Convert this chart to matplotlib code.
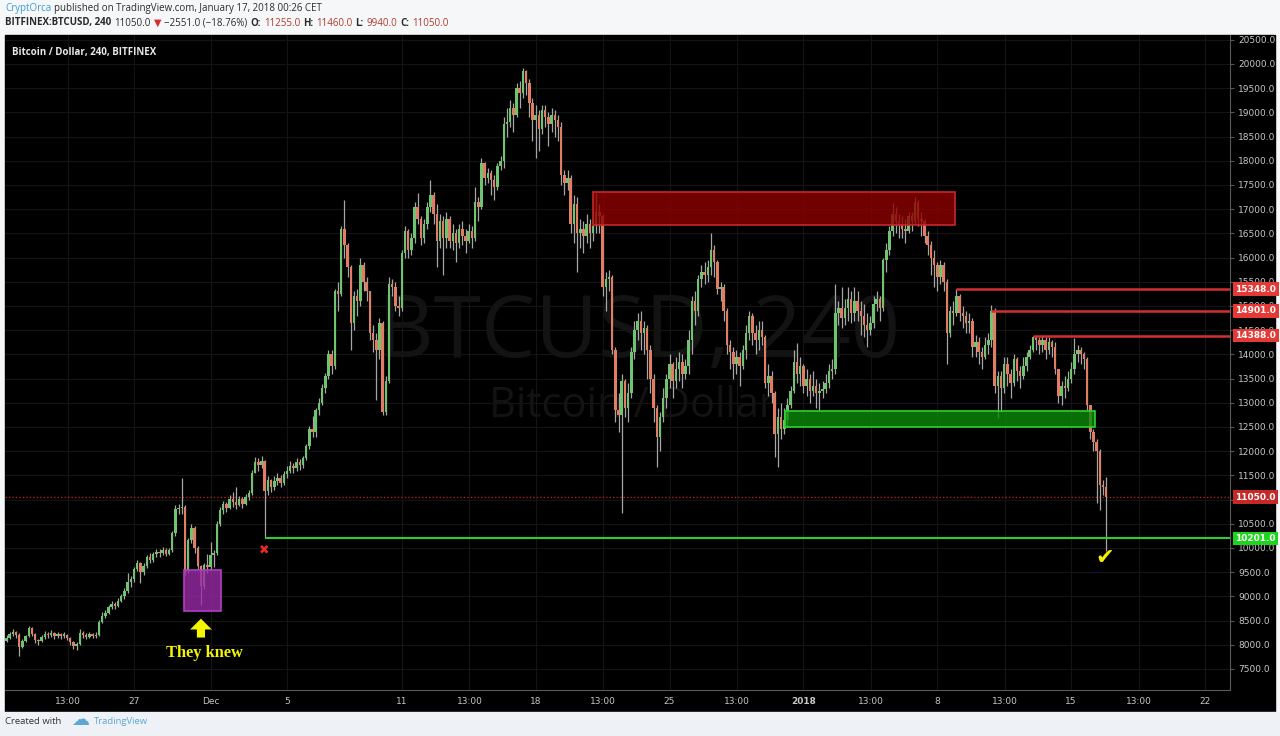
import matplotlib
matplotlib.use('Agg')
import matplotlib.pyplot as plt
import matplotlib.dates as mdates
import matplotlib.transforms as mtransforms
from matplotlib.patches import Rectangle
import numpy as np
import pandas as pd

# ---- 4h candles, BITFINEX:BTCUSD, from 2017-11-20 08:00 (one row per day) ----
first_open = 8080
closes = [
    8150, 8230, 8260, 8210, 7960, 8080,
    8180, 8350, 8220, 8090, 8070, 8160,
    8230, 8200, 8250, 8180, 8220, 8190,
    8200, 8150, 8050, 7970, 8020, 8250,
    8200, 8170, 8230, 8180, 8210, 8480,
    8600, 8660, 8780, 8850, 8800, 8900,
    9000, 9120, 9300, 9350, 9560, 9690,
    9500, 9620, 9810, 9760, 9880, 9920,
    9900, 9960, 9880, 9950, 10300, 10800,
    10820, 10850, 9520, 10160, 10420, 10000,
    9620, 9220, 9650, 9600, 9850, 9900,
    10500, 10780, 10900, 10830, 11020, 10940,
    10880, 11020, 10900, 11050, 11130, 11550,
    11780, 11720, 11800, 11180, 11400, 11250,
    11380, 11450, 11350, 11520, 11600, 11700,
    11650, 11780, 11720, 11850, 12100, 12450,
    12400, 12850, 13000, 13300, 13550, 14000,
    13750, 15300, 15250, 16600, 16250, 15800,
    14650, 15200, 15100, 15850, 15500, 15300,
    14450, 14300, 14100, 14650, 12800, 13450,
    15450, 15400, 15000, 14950, 16100, 16550,
    16150, 16400, 17050, 16800, 16400, 16700,
    17050, 17300, 16900, 16350, 16750, 16400,
    16800, 16350, 16500, 16300, 16600, 16450,
    16350, 16550, 16400, 17150, 17050, 17950,
    17650, 17750, 17600, 17450, 17900, 18000,
    18750, 18800, 19100, 18950, 19500, 19400,
    19850, 19600, 19200, 18850, 18950, 18650,
    19050, 18900, 18750, 18950, 18850, 18700,
    17700, 17550, 17650, 16700, 17100, 16500,
    16600, 16450, 16700, 16500, 16650, 16950,
    16850, 15400, 15550, 15600, 14100, 12850,
    12750, 13450, 12900, 13200, 14050, 14500,
    14700, 14450, 14550, 14100, 13500, 12900,
    12300, 12700, 13100, 13500, 13800, 13450,
    13700, 13850, 13600, 13750, 14300, 15100,
    14900, 15550, 15700, 15650, 15800, 16150,
    15900, 15350, 15400, 14900, 14200, 14050,
    13800, 13950, 13750, 14100, 14450, 14800,
    14450, 14300, 14500, 14350, 13400, 13550,
    13200, 12350, 12700, 12450, 12650, 12950,
    13250, 13850, 13600, 13750, 13350, 13500,
    13250, 13350, 13200, 13250, 13280, 13400,
    13650, 13700, 14850, 14950, 14750, 14950,
    15150, 14850, 15100, 14900, 14800, 14600,
    14500, 14650, 15050, 15150, 14950, 15950,
    16150, 16550, 16900, 16750, 16700, 16600,
    16550, 16850, 16750, 17150, 16800, 16750,
    16450, 16250, 16000, 15850, 15600, 15850,
    15500, 14450, 14900, 14850, 15200, 14850,
    14800, 14650, 14700, 14150, 14250, 14050,
    13950, 14200, 14300, 14900, 13350, 13550,
    13300, 13800, 13600, 13400, 13900, 13650,
    13550, 13750, 13950, 14100, 14350, 14300,
    14200, 14300, 14100, 14250, 14150, 13700,
    13150, 13350, 13300, 13500, 13700, 14000,
    14100, 14000, 13900, 12950, 12400, 12200,
    12000, 11300, 11255, 11050,
]
highs = [
    8200, 8270, 8320, 8280, 8250, 8120,
    8200, 8380, 8370, 8250, 8130, 8200,
    8280, 8270, 8300, 8260, 8270, 8250,
    8260, 8230, 8170, 8080, 8060, 8320,
    8290, 8240, 8270, 8240, 8260, 8520,
    8680, 8720, 8830, 8900, 8880, 8960,
    9050, 9180, 9480, 9420, 9600, 9760,
    9720, 9700, 9850, 9900, 9920, 9980,
    9980, 10020, 9990, 10000, 10350, 10880,
    10900, 11450, 10880, 10200, 10500, 10450,
    10050, 9650, 9700, 9880, 10120, 9950,
    10560, 10850, 10980, 10960, 11100, 11150,
    11250, 11080, 11060, 11120, 11200, 11620,
    11880, 11850, 11900, 11820, 11480, 11420,
    11480, 11550, 11500, 11600, 11700, 11800,
    11760, 11850, 11830, 11900, 12150, 12520,
    12720, 12900, 13100, 13380, 13620, 14100,
    14100, 15350, 15500, 16650, 17190, 16300,
    15850, 15300, 15350, 16000, 15900, 15600,
    15300, 14600, 14450, 14750, 14700, 13550,
    15600, 15550, 15500, 15200, 16150, 16650,
    16600, 16500, 17150, 17330, 16850, 16800,
    17150, 17600, 17350, 17100, 16900, 16850,
    16950, 16850, 16700, 16600, 16700, 16750,
    16600, 16700, 16650, 17450, 17250, 18050,
    17980, 17850, 17800, 17700, 17950, 18100,
    18900, 19100, 19250, 19200, 19600, 19650,
    19920, 19870, 19700, 19300, 19150, 19050,
    19150, 19150, 19000, 19100, 19050, 18950,
    18800, 17800, 17800, 17700, 17300, 17250,
    16800, 16750, 16900, 16800, 16800, 17330,
    17100, 16900, 15700, 15750, 15650, 14150,
    13200, 13600, 13500, 13400, 14150, 14700,
    14850, 14900, 14700, 14600, 14200, 13600,
    12950, 12800, 13300, 13600, 14000, 13850,
    13950, 14050, 14000, 13900, 14500, 15200,
    15300, 15650, 15850, 15900, 15950, 16500,
    16250, 15950, 15500, 15450, 14950, 14300,
    14150, 14100, 14050, 14200, 14600, 14900,
    14850, 14600, 14700, 14700, 14400, 13800,
    13650, 13250, 12900, 13000, 12900, 13100,
    13350, 14100, 14240, 13950, 13800, 13700,
    13600, 13650, 13500, 13400, 13450, 13600,
    13800, 13900, 15450, 15100, 15400, 15150,
    15400, 15300, 15400, 15300, 15100, 15050,
    14850, 14800, 15200, 15300, 15200, 16000,
    16300, 16650, 17130, 17050, 16900, 16850,
    16800, 16950, 16950, 17250, 17200, 16950,
    16800, 16550, 16350, 16150, 15900, 15950,
    15900, 15550, 15000, 15100, 15348, 15250,
    15000, 14900, 14850, 14750, 14400, 14350,
    14150, 14350, 14450, 15030, 14950, 13650,
    13650, 13950, 13950, 13700, 14000, 13950,
    13750, 13950, 14050, 14200, 14388, 14380,
    14350, 14380, 14350, 14350, 14300, 14250,
    13700, 13450, 13550, 13650, 13850, 14340,
    14200, 14150, 14050, 13950, 12950, 12450,
    12250, 12050, 11400, 11460,
]
lows = [
    8050, 8120, 8190, 8150, 7760, 7940,
    8060, 8160, 8180, 8040, 8000, 8050,
    8130, 8150, 8170, 8120, 8150, 8120,
    8140, 8100, 7990, 7920, 7890, 8000,
    8150, 8120, 8140, 8140, 8150, 8190,
    8450, 8560, 8640, 8740, 8740, 8780,
    8880, 8950, 9080, 9200, 9300, 9520,
    9280, 9450, 9580, 9680, 9720, 9820,
    9820, 9850, 9840, 9860, 9920, 10250,
    10700, 10700, 9450, 9480, 10100, 9900,
    9560, 8820, 9150, 9480, 9550, 9600,
    9850, 10450, 10700, 10750, 10800, 10850,
    10800, 10860, 10820, 10880, 11000, 11100,
    11550, 11600, 11650, 10201, 11100, 11150,
    11200, 11300, 11250, 11300, 11450, 11550,
    11550, 11600, 11620, 11650, 11820, 12050,
    12300, 12300, 12750, 12950, 13200, 13500,
    13600, 13700, 14900, 15200, 16000, 15600,
    14100, 14500, 14800, 15000, 15300, 15100,
    14300, 14050, 13060, 13900, 12750, 12750,
    13400, 15200, 14900, 14800, 14900, 16000,
    16000, 16050, 16300, 16700, 16250, 16300,
    16600, 16950, 16700, 15800, 16200, 15640,
    16200, 16200, 16150, 15900, 16200, 16250,
    16100, 16300, 16200, 16350, 16750, 17000,
    17500, 17550, 17300, 17200, 17400, 17800,
    17850, 18500, 18700, 18600, 18900, 19100,
    19300, 19350, 18900, 18400, 18060, 18200,
    18550, 18700, 18300, 18600, 18500, 18400,
    17500, 17300, 17400, 16500, 16300, 15700,
    16200, 16100, 16300, 16200, 16350, 16500,
    16500, 15200, 14900, 15300, 14000, 12600,
    12400, 10720, 12700, 12600, 13100, 13900,
    14300, 14100, 14000, 13500, 13200, 12600,
    11670, 12000, 12600, 12900, 13300, 13100,
    13300, 13450, 13300, 13500, 13600, 14000,
    14600, 14800, 15400, 15450, 15500, 15650,
    15600, 15250, 15100, 14700, 14000, 13700,
    13500, 13600, 13350, 13700, 13900, 14300,
    14200, 14000, 14100, 14200, 13300, 13150,
    13000, 11880, 11670, 12250, 12350, 12500,
    12900, 13200, 13400, 13350, 13200, 13150,
    13000, 13150, 12900, 12850, 13100, 13200,
    13300, 13500, 13600, 14600, 14550, 14600,
    14700, 14650, 14700, 14700, 14400, 14350,
    14150, 14400, 14550, 14900, 14700, 14900,
    15700, 16050, 16450, 16500, 16400, 16400,
    16300, 16500, 16550, 16700, 16650, 16450,
    16300, 16050, 15650, 15400, 15300, 15450,
    15300, 13800, 14350, 14600, 14800, 14700,
    14550, 14450, 14450, 13950, 13950, 13800,
    13700, 13900, 14000, 14150, 13200, 12690,
    12810, 13200, 13350, 13100, 13350, 13450,
    13300, 13500, 13650, 13900, 14050, 14100,
    14000, 14050, 13900, 14000, 13950, 13600,
    13000, 12950, 13100, 13250, 13400, 13600,
    13850, 13800, 13700, 12850, 12250, 12000,
    10930, 10780, 11100, 9940,
]

# drawn levels
res_levels = [15348, 14901, 14388]
res_start = [298, 309, 322]          # candle index where each line starts
support_level = 10201
support_start = 81
last_price = 11050

# zones: (start, end, low, high)
sell_zone = ('2017-12-21 00:00', '2018-01-08 22:00', 16670, 17355)
buy_zone = ('2017-12-31 01:00', '2018-01-16 06:00', 12500, 12840)
pump_zone = ('2017-11-29 15:00', '2017-12-01 13:00', 8700, 9550)

price_ticks = np.arange(7500, 20501, 500)
hidden_ticks = [11000]               # sits fully under the last-price label
tick_times = ['2017-11-23 13:00', '2017-11-27', '2017-12-01', '2017-12-05', '2017-12-11',
              '2017-12-14 13:00', '2017-12-18', '2017-12-21 13:00', '2017-12-25',
              '2017-12-28 13:00', '2018-01-01', '2018-01-04 13:00', '2018-01-08',
              '2018-01-11 13:00', '2018-01-15', '2018-01-18 13:00', '2018-01-22']
tick_labels = ['13:00', '27', 'Dec', '5', '11', '13:00', '18', '13:00', '25',
               '13:00', '2018', '13:00', '8', '13:00', '15', '13:00', '22']

W, H = 1280, 736
UP, DOWN, WICK = '#6fc46f', '#e27c62', '#a6a6a6'
AX_TXT = '#c6c6c6'


def fx(px):
    return px / W


def fy(py):
    return 1 - py / H


def dn(s):
    return mdates.date2num(pd.Timestamp(s).to_pydatetime())


fig = plt.figure(figsize=(W / 100, H / 100), dpi=100, facecolor='#f6f7f9')

# black chart panel + light footer
fig.add_artist(Rectangle((fx(5), fy(712)), fx(1275) - fx(5), fy(35) - fy(712),
                         transform=fig.transFigure, color='black', zorder=0))
fig.add_artist(Rectangle((0, 0), 1, fy(712), transform=fig.transFigure,
                         color='#eef1f5', zorder=0))

ax = fig.add_axes([fx(5), fy(690), fx(1230) - fx(5), fy(35) - fy(690)])
ax.set_facecolor('black')

times = pd.date_range('2017-11-20 08:00', periods=len(closes), freq='4h')
x = mdates.date2num(times.to_pydatetime())
c = np.array(closes, float)
o = np.concatenate([[first_open], c[:-1]])
h = np.maximum(np.array(highs, float), np.maximum(o, c))
l = np.minimum(np.array(lows, float), np.minimum(o, c))
up = c >= o

ax.vlines(x, l, h, color=WICK, lw=0.9, zorder=3)
body = np.maximum(np.abs(c - o), 25)
ax.bar(x, body, bottom=np.minimum(o, c), width=0.13,
       color=np.where(up, UP, DOWN), linewidth=0, zorder=4)

# grid
for p in price_ticks:
    ax.axhline(p, color='#141414', lw=0.8, zorder=1)
for t in tick_times:
    ax.axvline(dn(t), color='#141414', lw=0.8, zorder=1)

# watermark
ax.text(0.518, 0.542, 'BTCUSD, 240', transform=ax.transAxes, ha='center', va='center',
        fontsize=62, color='#131313', family='Open Sans', zorder=1.5)
ax.text(0.512, 0.434, 'Bitcoin / Dollar', transform=ax.transAxes, ha='center', va='center',
        fontsize=30, color='#131313', family='Open Sans', zorder=1.5)

# zones
for (t0, t1, p0, p1), fc, ec, a in [(sell_zone, '#8e0000', '#c62828', 0.8),
                                    (buy_zone, '#0b8a0b', '#2fd12f', 0.8),
                                    (pump_zone, '#9a2aa8', '#b040c0', 0.8)]:
    ax.add_patch(Rectangle((dn(t0), p0), dn(t1) - dn(t0), p1 - p0, facecolor=fc,
                           edgecolor='none', alpha=a, zorder=5))
    ax.add_patch(Rectangle((dn(t0), p0), dn(t1) - dn(t0), p1 - p0, facecolor='none',
                           edgecolor=ec, lw=1.2, zorder=5))

x_right = dn('2018-01-23 07:20')
x_left = dn('2017-11-20 06:07')
for lvl, s in zip(res_levels, res_start):
    ax.hlines(lvl, x[s], x_right, color='#d32f2f', lw=1.8, zorder=6)
ax.hlines(support_level, x[support_start], x_right, color='#2ecc2e', lw=1.5, zorder=6)
ax.axhline(last_price, color='#b71c1c', lw=1, ls=(0, (1, 1.5)), zorder=2)

# annotations
ax.annotate('', xy=(dn('2017-11-30 12:00'), 8540), xytext=(dn('2017-11-30 12:00'), 8150),
            arrowprops=dict(arrowstyle='simple,head_width=1.2,head_length=0.6,tail_width=0.45',
                            color='#f5f500', lw=0, mutation_scale=13, shrinkA=0, shrinkB=0),
            zorder=7)
ax.text(dn('2017-11-30 16:00'), 7830, 'They knew', ha='center', va='center', color='#f5f500',
        fontsize=11.8, fontweight='bold', family='Liberation Serif', zorder=7)
ax.text(dn('2017-12-03 19:00'), 9960, '\u2716', ha='center', va='center', color='#e52b2b',
        fontsize=9, zorder=7)
ax.text(dn('2018-01-16 18:30'), 9800, '\u2714', ha='center', va='center', color='#f5f000',
        fontsize=16, zorder=7)

ax.text(0.006, 0.982, 'Bitcoin / Dollar, 240, BITFINEX', transform=ax.transAxes, ha='left',
        va='top', color='#e8e8e8', fontsize=7, fontweight='bold', family='Open Sans', zorder=8)

# axes
ax.set_xlim(x_left, x_right)
ax.set_ylim(7066, 20599)
ax.yaxis.tick_right()
ax.set_yticks(price_ticks)
ax.set_yticklabels(['' if p in hidden_ticks else f'{p:.1f}' for p in price_ticks])
ax.set_xticks([dn(t) for t in tick_times])
ax.set_xticklabels(tick_labels)
for lab in ax.get_xticklabels():
    if lab.get_text() == '2018':
        lab.set_fontweight('bold')
ax.tick_params(axis='y', colors='#555555', labelcolor=AX_TXT, labelsize=6.5, length=3, pad=3)
ax.tick_params(axis='x', colors='#555555', labelcolor=AX_TXT, labelsize=6.5, length=0, pad=5)
for side in ['top', 'left']:
    ax.spines[side].set_visible(False)
for side in ['right', 'bottom']:
    ax.spines[side].set_color('#5a5a5a')
    ax.spines[side].set_linewidth(0.8)

# price labels on the right axis (drawn over the tick labels, as on TradingView)
trans = mtransforms.blended_transform_factory(ax.transAxes, ax.transData)
for lvl, fc in [(15348, '#e53935'), (14901, '#e53935'), (14388, '#e53935'),
                (last_price, '#c62828'), (support_level, '#1ed51e')]:
    ax.text(1.0045, lvl, f'{lvl:.1f}', transform=trans, ha='left', va='center', color='white',
            fontsize=6.5, fontweight='bold', clip_on=False, zorder=10,
            bbox=dict(boxstyle='square,pad=0.25', fc=fc, ec='none'))

# header text runs
fig.canvas.draw()
rend = fig.canvas.get_renderer()


def run(x0, y0, parts, size):
    xp = x0
    for s, col, wt in parts:
        t = fig.text(fx(xp), fy(y0), s, color=col, fontsize=size, fontweight=wt,
                     ha='left', va='center', family=['Open Sans', 'DejaVu Sans'])
        xp += t.get_window_extent(renderer=rend).width + 3


DARK, RED = '#2b2b2b', '#b03a2e'
run(5, 9, [('CryptOrca', '#3a9bd6', 'normal'),
           ('published on TradingView.com, January 17, 2018 00:26 CET', DARK, 'normal')], 7.0)
run(5, 23, [('BITFINEX:BTCUSD, 240', DARK, 'bold'), ('11050.0', DARK, 'normal'),
            ('\u25bc', '#d32f2f', 'normal'), ('\u22122551.0 (\u221218.76%)', DARK, 'normal'),
            ('O:', DARK, 'bold'), ('11255.0', RED, 'normal'), ('H:', DARK, 'bold'),
            ('11460.0', RED, 'normal'), ('L:', DARK, 'bold'), ('9940.0', RED, 'normal'),
            ('C:', DARK, 'bold'), ('11050.0', RED, 'normal')], 7.0)

fig.text(fx(5), fy(721), 'Created with', color='#333333', fontsize=6.8,
         ha='left', va='center', family='Open Sans')
fig.text(fx(80), fy(720), '\u2601', color='#5aa7d8', fontsize=13, ha='center', va='center')
fig.text(fx(94), fy(721), 'TradingView', color='#5aa7d8', fontsize=6.8,
         ha='left', va='center', family='Open Sans')

fig.savefig('out.png', dpi=100, facecolor=fig.get_facecolor())
